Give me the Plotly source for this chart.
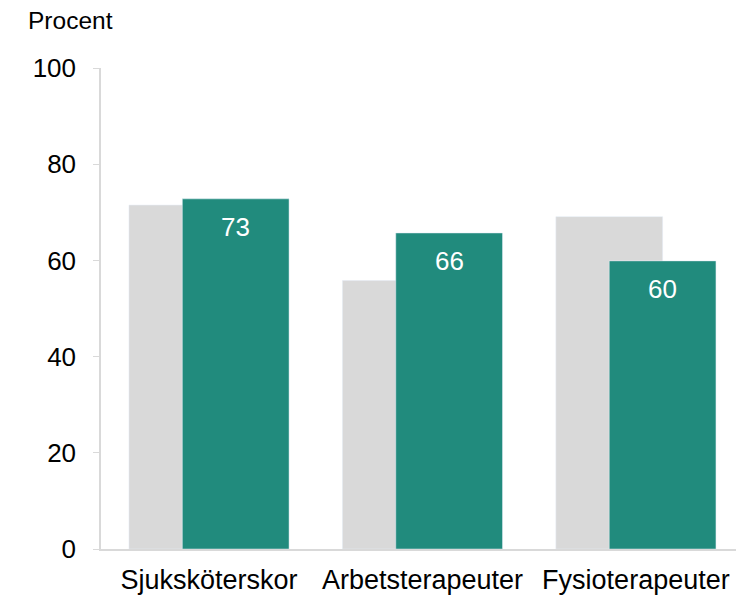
import plotly.graph_objects as go

categories = ["Sjuksköterskor", "Arbetsterapeuter", "Fysioterapeuter"]
grey_values = [71.5, 55.8, 69.1]
green_values = [72.8, 65.7, 59.9]
green_labels = ["73", "66", "60"]
y_ticks = [0, 20, 40, 60, 80, 100]

GREY = "#d9d9d9"
GREEN = "#218b7d"
FONT = "Liberation Sans, Arial, sans-serif"

fig = go.Figure()
fig.add_trace(go.Bar(x=categories, y=grey_values, marker_color=GREY,
                     width=0.5, offset=-0.375, showlegend=False, hoverinfo="skip"))
fig.add_trace(go.Bar(x=categories, y=green_values, marker_color=GREEN,
                     width=0.5, offset=-0.125, showlegend=False, hoverinfo="skip"))

for i, (v, t) in enumerate(zip(green_values, green_labels)):
    fig.add_annotation(x=i + 0.125, y=v, xref="x", yref="y", text=t,
                       showarrow=False, yanchor="middle", yshift=-28,
                       font=dict(family=FONT, size=26, color="white"))

fig.add_annotation(x=(18 - 93) / 641, y=(541 - 12) / 481, xref="paper", yref="paper",
                   text="Procent", showarrow=False, xanchor="left", yanchor="middle",
                   font=dict(family=FONT, size=24.5, color="black"))

fig.update_layout(
    width=736, height=590,
    margin=dict(l=93, r=2, t=60, b=49),
    paper_bgcolor="white", plot_bgcolor="white",
    barmode="overlay",
    font=dict(family=FONT, size=24, color="black"),
    xaxis=dict(range=[-0.506, 2.497], showgrid=False, showline=True, linecolor=GREY,
               linewidth=1.5, ticks="", tickfont=dict(size=27), zeroline=False,
               ticklabelstandoff=6),
    yaxis=dict(range=[0, 100], tickvals=y_ticks, showgrid=False, showline=True,
               linecolor=GREY, linewidth=1.5, ticks="outside", ticklen=6, tickcolor=GREY,
               zeroline=False, tickfont=dict(size=26), ticklabelstandoff=12),
)

fig.write_html("out.html")
